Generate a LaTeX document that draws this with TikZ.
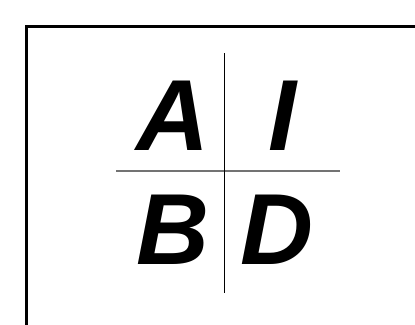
\documentclass[tikz,border=0pt]{standalone}
\usepackage{fontspec}
\setmainfont{Liberation Sans}
\begin{document}
\begin{tikzpicture}[x=1pt,y=-1pt,
  letter/.style={inner sep=0pt, font=\fontsize{101}{101}\selectfont\bfseries\itshape, anchor=base},
  frame/.style={line width=3pt, draw=black},
  vline/.style={line width=1pt, draw=black},
  hline/.style={line width=1.2pt, draw=black!55}]
\clip (0,0) rectangle (415,324);
\fill[white] (0,0) rectangle (415,324);
\draw[frame] (26.5,500) -- (26.5,26.5) -- (600,26.5);
\node[letter] (A) at (173,150) {A};
\node[letter] (I) at (283,150) {I};
\node[letter] (B) at (173,264) {B};
\node[letter] (D) at (277,264) {D};
\coordinate (vt) at (224,53);
\coordinate (vb) at (224,293);
\coordinate (hl) at (116,171);
\coordinate (hr) at (340,171);
\draw[hline] (hl) -- (hr);
\draw[vline] (vt) -- (vb);
\end{tikzpicture}
\end{document}
